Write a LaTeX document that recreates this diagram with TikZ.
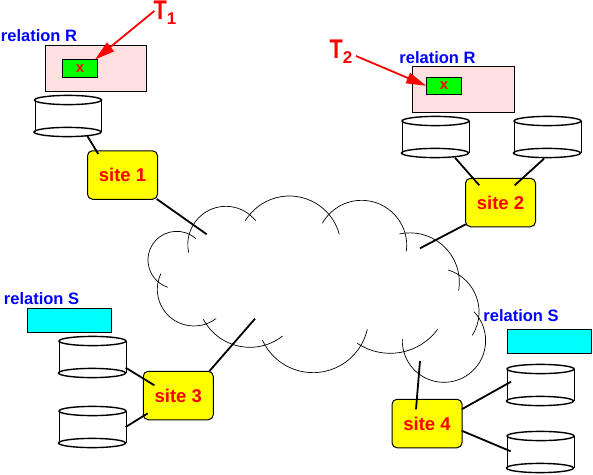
\documentclass[tikz,border=0pt]{standalone}
\usepackage{fontspec}
\setmainfont{Liberation Sans}
\usetikzlibrary{arrows.meta}
\definecolor{pinkbox}{RGB}{255,224,224}
\definecolor{purecyan}{RGB}{0,255,255}
\definecolor{puregreen}{RGB}{0,255,0}
\definecolor{pureyellow}{RGB}{255,255,0}
\definecolor{purered}{RGB}{255,0,0}
\definecolor{pureblue}{RGB}{0,0,255}
\newcommand{\diskat}[3]{%
  \node[diskspace] (#1) at (#2,#3) {};
  \draw[diskside] (#2-33,#3-16) -- (#2-33,#3+16) (#2+33.5,#3-16) -- (#2+33.5,#3+16);
  \draw[diskrim] (#2,#3-16) ellipse [x radius=33.5,y radius=4.6];
  \draw[diskrim] (#2-0.5,#3+16) ellipse [x radius=33.5,y radius=4.6];
}
\newcommand{\cloudarc}[5]{%
  \draw[cloudline] (#1,#2) ++(#4:#3) arc [start angle=#4,end angle=#5,radius=#3];
}
\newcommand{\txname}[1]{\scalebox{0.8}[1]{T}\raisebox{-5pt}{\fontsize{17}{17}\selectfont #1}}
\tikzset{
  sitebox/.style={draw=black,line width=1pt,fill=pureyellow,rounded corners=5pt,minimum width=70pt,minimum height=48.5pt,inner sep=0pt,outer sep=0pt,text=purered,font=\bfseries\fontsize{18.5}{20}\selectfont},
  relbox/.style={draw=black,line width=0.9pt,fill=pinkbox,minimum width=101.5pt,minimum height=46pt,inner sep=0pt,outer sep=0pt},
  itembox/.style={draw=black,line width=0.9pt,fill=puregreen,minimum width=35.5pt,minimum height=17.5pt,inner sep=0pt,outer sep=0pt,text=purered,font=\bfseries\fontsize{15}{15}\selectfont},
  cyanbox/.style={draw=black,line width=0.9pt,fill=purecyan,minimum width=84.5pt,minimum height=24pt,inner sep=0pt,outer sep=0pt},
  rellabel/.style={text=pureblue,inner sep=0pt,font=\bfseries\fontsize{16.5}{18}\selectfont},
  txlabel/.style={text=purered,inner sep=0pt,font=\fontsize{27}{27}\selectfont\bfseries},
  diskspace/.style={minimum width=67pt,minimum height=42pt,inner sep=0pt,outer sep=0pt},
  diskside/.style={draw=black,line width=0.9pt},
  diskrim/.style={draw=black,line width=1.4pt},
  link/.style={draw=black,line width=1.8pt},
  cloudline/.style={draw=black,line width=0.7pt},
  txarrow/.style={draw=purered,line width=1.8pt,-{Triangle[length=20pt,width=11pt]}},
}
\begin{document}
\begin{tikzpicture}[x=1pt,y=-1pt]
\useasboundingbox (0,0) rectangle (593,474);
% relation boxes
\node[relbox] (rela) at (96,68.3) {};
\node[relbox] (relb) at (463.5,89.3) {};
\node[itembox] (xa) at (80,68.3) {x};
\node[itembox] (xb) at (444,85.8) {x};
\node[cyanbox] (sa) at (69.5,320.3) {};
\node[cyanbox] (sb) at (549.5,341.3) {};
% labels
\node[rellabel] (lra) at (39,36) {relation R};
\node[rellabel] (lrb) at (437.5,58) {relation R};
\node[rellabel] (lsa) at (41.5,299) {relation S};
\node[rellabel] (lsb) at (521,316) {relation S};
\node[txlabel] (ta) at (165,13) {\txname{1}};
\node[txlabel] (tb) at (341,52) {\txname{2}};
% cloud
\begin{scope}[shift={(130,180)},x=0.3333pt,y=-0.3333pt]
\cloudarc{140}{240}{86}{-48.3}{-251.8}
\cloudarc{192}{328}{110}{205.2}{52.9}
\cloudarc{359.9}{343.5}{158.5}{152}{51.8}
\cloudarc{549.1}{411}{167}{155.6}{12.8}
\cloudarc{780.6}{343.4}{176.6}{123.9}{36.3}
\cloudarc{942}{482}{125}{182.3}{-44}
\cloudarc{915.5}{395.8}{131.8}{32.2}{-72.6}
\cloudarc{839.7}{306.9}{148.4}{9.7}{-102.3}
\cloudarc{694.9}{196.3}{135.3}{7.5}{-150.6}
\cloudarc{478.2}{203}{155}{-15}{-148.5}
\cloudarc{287.6}{193.3}{114.3}{-38.6}{-192.5}
\end{scope}
% disks
\diskat{da}{68}{116}
\diskat{dba}{435.5}{137}
\diskat{dbb}{547.5}{137}
\diskat{dca}{92.5}{357}
\diskat{dcb}{92.5}{427}
\diskat{dda}{540.5}{385}
\diskat{ddb}{540.5}{452}
% sites
\node[sitebox] (sitea) at (122.5,175) {site 1};
\node[sitebox] (siteb) at (500.5,202.5) {site 2};
\node[sitebox] (sitec) at (178.25,395.5) {site 3};
\node[sitebox] (sited) at (427,423.5) {site 4};
% cloud ends
\coordinate (cla) at (206.7,234.3);
\coordinate (clb) at (420,248.3);
\coordinate (clc) at (255,318.7);
\coordinate (cld) at (420,361);
% connectors
\draw[link] ([shift={(19.3,20)}]da.center) -- ([shift={(-24.2,-21)}]sitea.center);
\draw[link] ([shift={(19.5,20.7)}]dba.center) -- ([shift={(-21.2,-17.2)}]siteb.center);
\draw[link] ([shift={(-3.5,21.7)}]dbb.center) -- ([shift={(14.2,-17.2)}]siteb.center);
\draw[link] ([shift={(33.2,10.7)}]dca.center) -- ([shift={(-23.9,-10.2)}]sitec.center);
\draw[link] ([shift={(33.2,0)}]dcb.center) -- ([shift={(-30.5,17.8)}]sitec.center);
\draw[link] ([shift={(-29.5,-3.3)}]dda.center) -- ([shift={(34.7,-14.2)}]sited.center);
\draw[link] ([shift={(-29.8,-0.7)}]ddb.center) -- ([shift={(34.7,7.2)}]sited.center);
\draw[link] ([shift={(34.2,24)}]sitea.center) -- (cla);
\draw[link] ([shift={(-34.8,21.8)}]siteb.center) -- (clb);
\draw[link] ([shift={(31,-24.2)}]sitec.center) -- (clc);
\draw[link] ([shift={(-11,-14.2)}]sited.center) -- (cld);
% transaction arrows
\draw[txarrow] ([shift={(-10.7,-2)}]ta.center) -- ([shift={(-2.7,0)}]xa.north east);
\draw[txarrow] ([shift={(15,4)}]tb.center) -- (xb.west);
\end{tikzpicture}
\end{document}
